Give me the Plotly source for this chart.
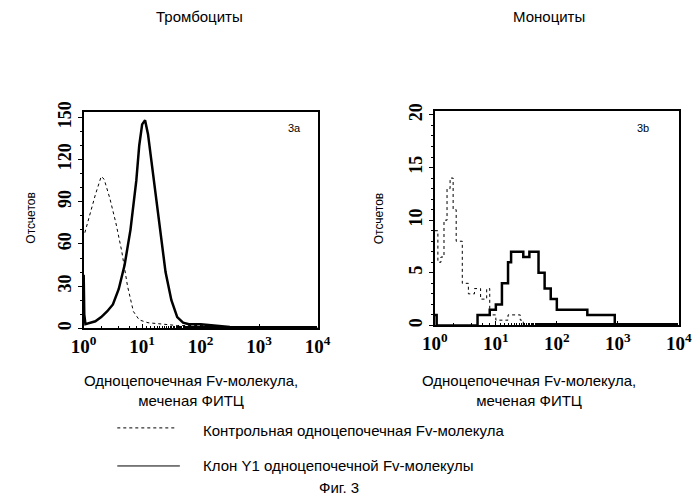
import plotly.graph_objects as go

# Тромбоциты (3a): log10 of fluorescence and counts
plt_x_solid = [0, 0.01, 0.03, 0.1, 0.2, 0.3, 0.4, 0.5, 0.6, 0.7, 0.8, 0.9, 0.95, 1.0, 1.05, 1.1, 1.2, 1.3, 1.4, 1.5, 1.6, 1.7, 1.8, 2.0, 2.2, 2.5, 3.0, 4.0]
plt_y_solid = [38, 10, 3, 4, 5, 8, 12, 17, 28, 45, 70, 105, 130, 145, 148, 138, 105, 70, 40, 20, 8, 4, 3, 3, 2, 1, 0.5, 0]
plt_x_dot = [0.02, 0.1, 0.2, 0.3, 0.35, 0.45, 0.55, 0.65, 0.75, 0.85, 0.95, 1.1, 1.3, 1.6, 2.0, 2.5, 3.0]
plt_y_dot = [68, 80, 95, 108, 106, 92, 75, 55, 30, 12, 6, 4, 3, 2, 2, 1, 0]

# Моноциты (3b)
mono_x_solid = [0, 0.03, 0.7, 0.8, 0.9, 1.0, 1.1, 1.2, 1.25, 1.35, 1.45, 1.55, 1.7, 1.8, 1.9, 2.0, 2.1, 2.3, 2.5, 2.7, 2.9, 2.95]
mono_y_solid = [1, 0, 1, 1, 1.5, 2, 4, 6, 7, 7, 6.5, 7, 5, 3.5, 2.5, 1.5, 1.5, 1.5, 1, 1, 1, 0]
mono_x_dot = [0, 0.05, 0.1, 0.15, 0.2, 0.25, 0.3, 0.35, 0.45, 0.55, 0.65, 0.75, 0.85, 0.9, 1.0, 1.2, 1.4, 1.45]
mono_y_dot = [9, 6, 6.5, 10, 13, 14, 11, 8, 4, 3, 3.5, 2.5, 3.5, 1, 0.5, 1, 0.5, 0]

xticks = [1, 10, 100, 1000, 10000]
xticktext = ["<b>10<sup>0</sup></b>", "<b>10<sup>1</sup></b>", "<b>10<sup>2</sup></b>", "<b>10<sup>3</sup></b>", "<b>10<sup>4</sup></b>"]

fig = go.Figure()
fig.add_trace(go.Scatter(x=[10**v for v in plt_x_dot], y=plt_y_dot, mode="lines",
                         line=dict(color="black", width=1, dash="dot"), xaxis="x", yaxis="y"))
fig.add_trace(go.Scatter(x=[10**v for v in plt_x_solid], y=plt_y_solid, mode="lines",
                         line=dict(color="black", width=2.5), xaxis="x", yaxis="y"))
fig.add_trace(go.Scatter(x=[10**v for v in mono_x_dot], y=mono_y_dot, mode="lines", line_shape="hv",
                         line=dict(color="black", width=1, dash="dot"), xaxis="x2", yaxis="y2"))
fig.add_trace(go.Scatter(x=[10**v for v in mono_x_solid], y=mono_y_solid, mode="lines", line_shape="hv",
                         line=dict(color="black", width=2.5), xaxis="x2", yaxis="y2"))

serif = dict(family="Liberation Serif", size=19, color="black")
xax = dict(type="log", range=[0, 4], tickvals=xticks, ticktext=xticktext, tickfont=serif,
           showline=True, linecolor="black", linewidth=1.5, mirror=True, showgrid=False,
           ticks="inside", ticklen=5, tickcolor="black", minor=dict(ticks="inside", ticklen=3, tickcolor="black"),
           zeroline=False)
yax = dict(showline=True, linecolor="black", linewidth=1.5, mirror=True, showgrid=False,
           tickfont=dict(serif, size=18), tickprefix="<b>", ticksuffix="</b>",
           tickangle=-90, ticks="outside", ticklen=4, tickcolor="black", zeroline=False,
           minor=dict(ticks="outside", ticklen=2, tickcolor="black"))

H = 499
fig.update_layout(
    width=700, height=H, showlegend=False, plot_bgcolor="white", paper_bgcolor="white",
    margin=dict(l=0, r=0, t=0, b=0),
    font=dict(family="Liberation Sans", color="black"),
    xaxis=dict(xax, domain=[0.093, 0.44], anchor="y"),
    yaxis=dict(yax, domain=[1 - 318 / H, 1 - 96 / H], range=[0, 154], dtick=30, anchor="x"),
    xaxis2=dict(xax, domain=[0.614, 0.976], anchor="y2"),
    yaxis2=dict(yax, domain=[1 - 315 / H, 1 - 95 / H], range=[0, 20.4], dtick=5, anchor="x2"),
)

def txt(x, y, s, size=14, angle=0, xanchor="center", yanchor="middle"):
    fig.add_annotation(x=x / 700, y=1 - y / H, xref="paper", yref="paper", text=s, showarrow=False,
                       font=dict(size=size, family="Liberation Sans"), textangle=angle,
                       xanchor=xanchor, yanchor=yanchor)

txt(185, -12, "Тромбоциты", size=15, yanchor="top")
txt(548, -12, "Моноциты", size=15, yanchor="top")
txt(10, 205, "Отсчетов", size=12, angle=-90)
txt(372, 205, "Отсчетов", size=12, angle=-90)
txt(284, 113, "3a", size=11)
txt(646, 113, "3b", size=11)
txt(177, 382, "Одноцепочечная Fv-молекула,<br>меченая ФИТЦ", size=15)
txt(528, 382, "Одноцепочечная Fv-молекула,<br>меченая ФИТЦ", size=15)
txt(187, 423, "Контрольная одноцепочечная Fv-молекула", size=15, xanchor="left")
txt(187, 459, "Клон Y1 одноцепочечной Fv-молекулы", size=15, xanchor="left")
txt(330, 481, "Фиг. 3", size=15)

fig.add_shape(type="line", xref="paper", yref="paper", x0=100 / 700, x1=162 / 700,
              y0=1 - 420 / H, y1=1 - 420 / H, line=dict(color="black", width=1, dash="dot"))
fig.add_shape(type="line", xref="paper", yref="paper", x0=100 / 700, x1=165 / 700,
              y0=1 - 459 / H, y1=1 - 459 / H, line=dict(color="black", width=1))

fig.write_html("out.html")
